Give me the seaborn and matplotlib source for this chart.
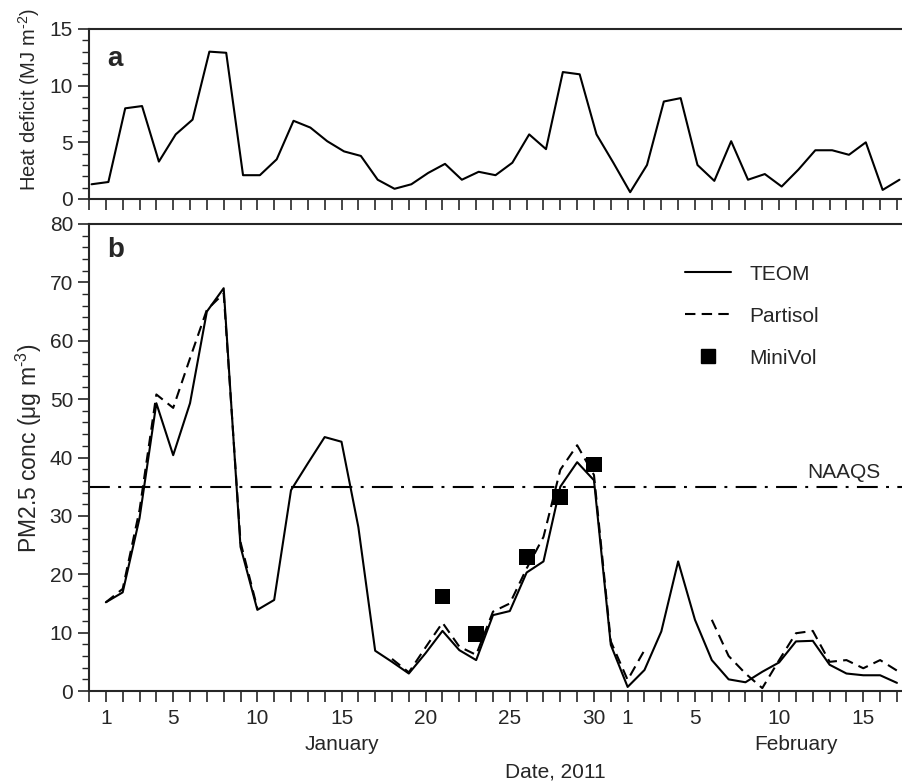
import numpy as np
import pandas as pd
import matplotlib
matplotlib.use("Agg")
import matplotlib.pyplot as plt
from matplotlib.lines import Line2D
from matplotlib.ticker import MultipleLocator, FixedLocator
import seaborn as sns

# day number counted from 1 January 2011 (day 32 = 1 February)
hd_days = list(range(0, 49))
heat_deficit = [1.3, 1.5, 8.0, 8.2, 3.3, 5.7, 7.0, 13.0, 12.9, 2.1, 2.1, 3.5,
                6.9, 6.3, 5.1, 4.2, 3.8, 1.7, 0.9, 1.3, 2.3, 3.1, 1.7, 2.4,
                2.1, 3.2, 5.7, 4.4, 11.2, 11.0, 5.7, 3.2, 0.6, 3.0, 8.6, 8.9,
                3.0, 1.6, 5.1, 1.7, 2.2, 1.1, 2.6, 4.3, 4.3, 3.9, 5.0, 0.8, 1.7]

pm_days = list(range(1, 49))
teom = [15.2, 16.9, 29.6, 49.3, 40.4, 49.3, 65.0, 69.0, 24.7, 13.9,
        15.6, 34.4, 39.0, 43.5, 42.7, 28.1, 6.9, 5.0, 3.0, 6.5,
        10.3, 7.0, 5.3, 13.0, 13.7, 20.3, 22.2, 35.0, 39.2, 36.1,
        7.9, 0.7, 3.6, 10.2, 22.2, 12.2, 5.3, 2.0, 1.5, 3.3,
        4.9, 8.5, 8.6, 4.5, 3.0, 2.7, 2.7, 1.4]
nan = np.nan
partisol = [15.2, 17.5, 31.0, 50.8, 48.5, 57.0, 65.3, 68.1, 25.5, 14.2,
            nan, nan, nan, nan, nan, nan, nan,
            5.5, 3.2, 7.5, 11.7, 7.6, 6.2, 13.6, 15.0, 21.0, 26.4, 37.9,
            42.1, 37.0, 8.5, 1.9, 7.0,
            nan, nan, nan,
            12.2, 6.0, 3.0, 0.5, 5.3, 9.9, 10.3, 5.0, 5.3, 3.9, 5.3, 3.5]

minivol_days = [21, 23, 26, 28, 30]
minivol = [16.2, 9.8, 22.9, 33.3, 38.8]

naaqs = 35

tick_days = [1, 5, 10, 15, 20, 25, 30, 32, 36, 41, 46]
tick_labels = ["1", "5", "10", "15", "20", "25", "30", "1", "5", "10", "15"]

sns.set_style("ticks")
plt.rcParams['font.family'] = ['Liberation Sans', 'DejaVu Sans']
plt.rcParams['font.size'] = 15
plt.rcParams['axes.linewidth'] = 1.5
plt.rcParams['mathtext.fontset'] = 'custom'
plt.rcParams['mathtext.rm'] = 'Liberation Sans'

fig = plt.figure(figsize=(9.02, 7.81), dpi=100)
ax1 = fig.add_axes([0.0987, 0.7452, 0.9013, 0.2177])
ax2 = fig.add_axes([0.0987, 0.1152, 0.9013, 0.598])

# panel a: heat deficit
hd = pd.DataFrame({'day': np.array(hd_days) + 0.15, 'hd': heat_deficit})
sns.lineplot(data=hd, x='day', y='hd', color='black', lw=1.5, ax=ax1)
ax1.set_ylim(0, 15)
ax1.yaxis.set_major_locator(MultipleLocator(5))
ax1.yaxis.set_minor_locator(MultipleLocator(1))
ax1.text(0.022, 0.784, "a", transform=ax1.transAxes, fontsize=20,
         fontweight='bold', va='baseline')

# panel b: PM2.5
pm = pd.DataFrame({'day': pm_days, 'teom': teom, 'partisol': partisol})
pm['seg'] = pm['partisol'].isna().cumsum()
sns.lineplot(data=pm, x='day', y='teom', color='black', lw=1.5, ax=ax2)
sns.lineplot(data=pm.dropna(), x='day', y='partisol', units='seg',
             estimator=None, color='black', lw=1.5, dashes=False,
             linestyle=(0, (5, 3)), ax=ax2)
mv = pd.DataFrame({'day': minivol_days, 'conc': minivol})
sns.scatterplot(data=mv, x='day', y='conc', marker='s', s=130,
                color='black', edgecolor='none', ax=ax2, zorder=5)
ax2.axhline(naaqs, color='black', lw=1.5,
            linestyle=(0, (10, 4, 1.4, 4)))
ax2.text(47, naaqs + 0.8, "NAAQS", ha='right', va='bottom', fontsize=15)
ax2.set_ylim(0, 80)
ax2.yaxis.set_major_locator(MultipleLocator(10))
ax2.yaxis.set_minor_locator(MultipleLocator(2))
ax2.text(0.022, 0.93, "b", transform=ax2.transAxes, fontsize=20,
         fontweight='bold', va='baseline')

handles = [Line2D([], [], color='black', lw=1.5),
           Line2D([], [], color='black', lw=1.5, linestyle=(0, (5, 3))),
           Line2D([], [], color='black', marker='s', markersize=10,
                  linestyle='none')]
ax2.legend(handles, ["TEOM", "Partisol", "MiniVol"], loc='upper left',
           bbox_to_anchor=(0.72, 0.935), frameon=False, fontsize=15,
           handlelength=2.2, handletextpad=0.9, labelspacing=1.1,
           borderpad=0)

for ax in (ax1, ax2):
    ax.set_xlim(0, 48.3)
    ax.xaxis.set_major_locator(FixedLocator(list(range(0, 49))))
    ax.spines['right'].set_visible(False)
    ax.tick_params(axis='y', which='major', length=8, width=1.2,
                   direction='out', labelsize=15)
    ax.tick_params(axis='y', which='minor', length=5, width=1.0,
                   direction='out')
    ax.tick_params(axis='x', length=8, width=1.2, direction='out')
    ax.set_xlabel("")

ax1.set_ylabel("Heat deficit (MJ m$^{\\text{-2}}$)", fontsize=14.5)
ax1.yaxis.set_label_coords(-0.058, 0.585)
ax2.set_ylabel("PM2.5 conc (\u03bcg m$^{\\text{-3}}$)", fontsize=16.5)
ax2.yaxis.set_label_coords(-0.055, 0.52)

ax1.set_xticklabels([])
ax2.set_xticks(tick_days, tick_labels)
ax2.xaxis.set_minor_locator(FixedLocator(list(range(0, 49))))
ax2.tick_params(axis='x', which='both', length=8, width=1.2,
                direction='out', labelsize=15, pad=5)

ax2.text(15, -0.115, "January", transform=ax2.get_xaxis_transform(),
         ha='center', va='center', fontsize=15)
ax2.text(42, -0.115, "February", transform=ax2.get_xaxis_transform(),
         ha='center', va='center', fontsize=15)
fig.text(0.616, 0.0115, "Date, 2011", ha='center', va='center', fontsize=15)

fig.savefig("out.png", dpi=100)
